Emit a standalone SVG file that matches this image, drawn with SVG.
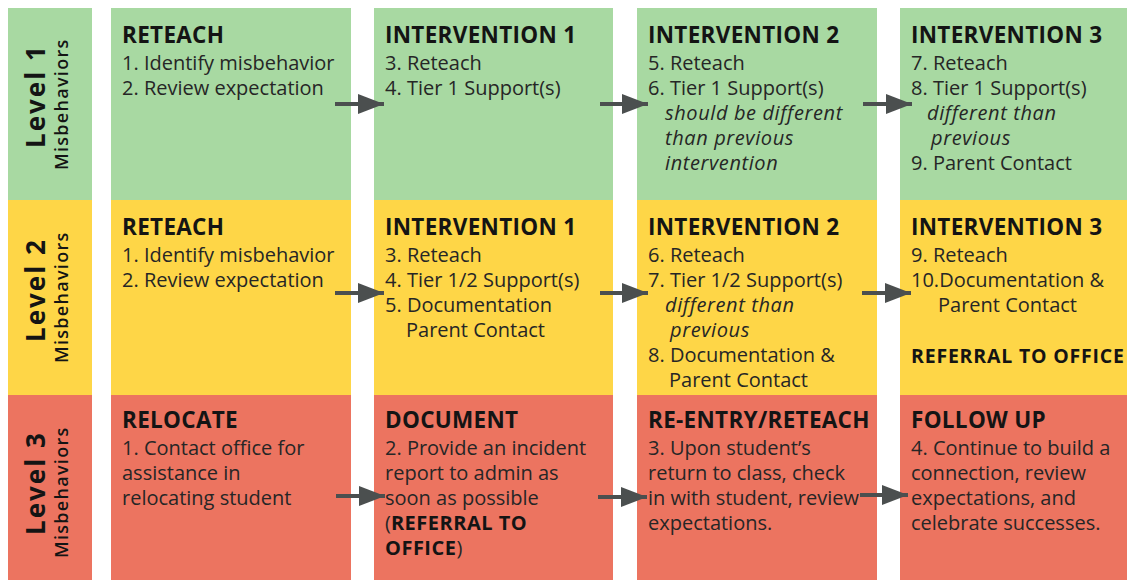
<svg xmlns="http://www.w3.org/2000/svg" width="1127" height="580" viewBox="0 0 1127 580">
<defs>
<style>
.g{fill:#a8d9a2}.y{fill:#fed647}.r{fill:#ec7460}
text{font-family:"Open Sans","Noto Sans","Liberation Sans",sans-serif;fill:#262626}
.t{font-size:22.5px;font-weight:700;letter-spacing:0.3px;fill:#141414}
.b{font-size:20px}
.i{font-size:20px;font-style:italic;letter-spacing:0.6px}
.lv{font-size:26px;font-weight:700;letter-spacing:2px;fill:#141414}
.ms{font-size:18px;font-weight:600;letter-spacing:1.3px;fill:#141414}
.bb{font-weight:700;fill:#141414;letter-spacing:0.5px}
.conn{stroke:#4b4f4f;stroke-width:4;fill:none}
</style>
<marker id="ah" markerUnits="userSpaceOnUse" markerWidth="26" markerHeight="20" refX="26" refY="10" orient="auto">
<path d="M0,0 L26,10 L0,20 Z" fill="#4b4f4f"/>
</marker>
</defs>
<rect width="1127" height="580" fill="#ffffff"/>

<g id="level1">
<rect class="g" x="8" y="8" width="84" height="192"/>
<text class="lv" transform="translate(45,148) rotate(-90)">Level 1</text>
<text class="ms" transform="translate(68,170) rotate(-90)">Misbehaviors</text>
</g>
<g id="level2">
<rect class="y" x="8" y="200" width="84" height="195"/>
<text class="lv" transform="translate(45,342) rotate(-90)">Level 2</text>
<text class="ms" transform="translate(68,363) rotate(-90)">Misbehaviors</text>
</g>
<g id="level3">
<rect class="r" x="8" y="395" width="84" height="185"/>
<text class="lv" transform="translate(45,535) rotate(-90)">Level 3</text>
<text class="ms" transform="translate(68,558) rotate(-90)">Misbehaviors</text>
</g>

<g id="r1c1">
<rect class="g" x="111" y="8" width="240" height="192"/>
<text class="t" x="122" y="43">RETEACH</text>
<text class="b" x="122" y="70">1. Identify misbehavior</text>
<text class="b" x="122" y="95">2. Review expectation</text>
</g>
<g id="r1c2">
<rect class="g" x="374" y="8" width="239" height="192"/>
<text class="t" x="385" y="43">INTERVENTION 1</text>
<text class="b" x="385" y="70">3. Reteach</text>
<text class="b" x="385" y="95">4. Tier 1 Support(s)</text>
</g>
<g id="r1c3">
<rect class="g" x="637" y="8" width="240" height="192"/>
<text class="t" x="648" y="43">INTERVENTION 2</text>
<text class="b" x="648" y="70">5. Reteach</text>
<text class="b" x="648" y="95">6. Tier 1 Support(s)</text>
<text class="i" x="665" y="120">should be different</text>
<text class="i" x="665" y="145">than previous</text>
<text class="i" x="665" y="170">intervention</text>
</g>
<g id="r1c4">
<rect class="g" x="900" y="8" width="227" height="192"/>
<text class="t" x="911" y="43">INTERVENTION 3</text>
<text class="b" x="911" y="70">7. Reteach</text>
<text class="b" x="911" y="95">8. Tier 1 Support(s)</text>
<text class="i" x="927" y="120">different than</text>
<text class="i" x="931" y="145">previous</text>
<text class="b" x="911" y="170">9. Parent Contact</text>
</g>

<g id="r2c1">
<rect class="y" x="111" y="200" width="240" height="195"/>
<text class="t" x="122" y="235">RETEACH</text>
<text class="b" x="122" y="262">1. Identify misbehavior</text>
<text class="b" x="122" y="287">2. Review expectation</text>
</g>
<g id="r2c2">
<rect class="y" x="374" y="200" width="239" height="195"/>
<text class="t" x="385" y="235">INTERVENTION 1</text>
<text class="b" x="385" y="262">3. Reteach</text>
<text class="b" x="385" y="287">4. Tier 1/2 Support(s)</text>
<text class="b" x="385" y="312">5. Documentation</text>
<text class="b" x="406" y="337">Parent Contact</text>
</g>
<g id="r2c3">
<rect class="y" x="637" y="200" width="240" height="195"/>
<text class="t" x="648" y="235">INTERVENTION 2</text>
<text class="b" x="648" y="262">6. Reteach</text>
<text class="b" x="648" y="287">7. Tier 1/2 Support(s)</text>
<text class="i" x="665" y="312">different than</text>
<text class="i" x="670" y="337">previous</text>
<text class="b" x="648" y="362">8. Documentation &amp;</text>
<text class="b" x="669" y="387">Parent Contact</text>
</g>
<g id="r2c4">
<rect class="y" x="900" y="200" width="227" height="195"/>
<text class="t" x="911" y="235">INTERVENTION 3</text>
<text class="b" x="911" y="262">9. Reteach</text>
<text class="b" x="911" y="287">10.Documentation &amp;</text>
<text class="b" x="938" y="312">Parent Contact</text>
<text class="t" x="911" y="363" style="font-size:19.5px;letter-spacing:0.8px">REFERRAL TO OFFICE</text>
</g>

<g id="r3c1">
<rect class="r" x="111" y="395" width="240" height="185"/>
<text class="t" x="122" y="428">RELOCATE</text>
<text class="b" x="122" y="455">1. Contact office for</text>
<text class="b" x="122" y="480">assistance in</text>
<text class="b" x="122" y="505">relocating student</text>
</g>
<g id="r3c2">
<rect class="r" x="374" y="395" width="239" height="185"/>
<text class="t" x="385" y="428">DOCUMENT</text>
<text class="b" x="385" y="455">2. Provide an incident</text>
<text class="b" x="385" y="480">report to admin as</text>
<text class="b" x="385" y="505">soon as possible</text>
<text class="b" x="385" y="530">(<tspan class="bb">REFERRAL TO</tspan></text>
<text class="b" x="385" y="555"><tspan class="bb">OFFICE</tspan>)</text>
</g>
<g id="r3c3">
<rect class="r" x="637" y="395" width="240" height="185"/>
<text class="t" x="648" y="428">RE-ENTRY/RETEACH</text>
<text class="b" x="648" y="455">3. Upon student’s</text>
<text class="b" x="648" y="480">return to class, check</text>
<text class="b" x="648" y="505">in with student, review</text>
<text class="b" x="648" y="530">expectations.</text>
</g>
<g id="r3c4">
<rect class="r" x="900" y="395" width="227" height="185"/>
<text class="t" x="911" y="428">FOLLOW UP</text>
<text class="b" x="911" y="455">4. Continue to build a</text>
<text class="b" x="911" y="480">connection, review</text>
<text class="b" x="911" y="505">expectations, and</text>
<text class="b" x="911" y="530">celebrate successes.</text>
</g>

<g id="connectors">
<line class="conn" x1="335" y1="104" x2="384" y2="104" marker-end="url(#ah)"/>
<line class="conn" x1="600" y1="104" x2="648" y2="104" marker-end="url(#ah)"/>
<line class="conn" x1="863" y1="104" x2="912" y2="104" marker-end="url(#ah)"/>
<line class="conn" x1="335" y1="293" x2="384" y2="293" marker-end="url(#ah)"/>
<line class="conn" x1="600" y1="293" x2="648" y2="293" marker-end="url(#ah)"/>
<line class="conn" x1="862" y1="293" x2="911" y2="293" marker-end="url(#ah)"/>
<line class="conn" x1="336" y1="496" x2="385" y2="496" marker-end="url(#ah)"/>
<line class="conn" x1="598" y1="497" x2="647" y2="497" marker-end="url(#ah)"/>
<line class="conn" x1="860" y1="495" x2="908" y2="495" marker-end="url(#ah)"/>
</g>
</svg>
